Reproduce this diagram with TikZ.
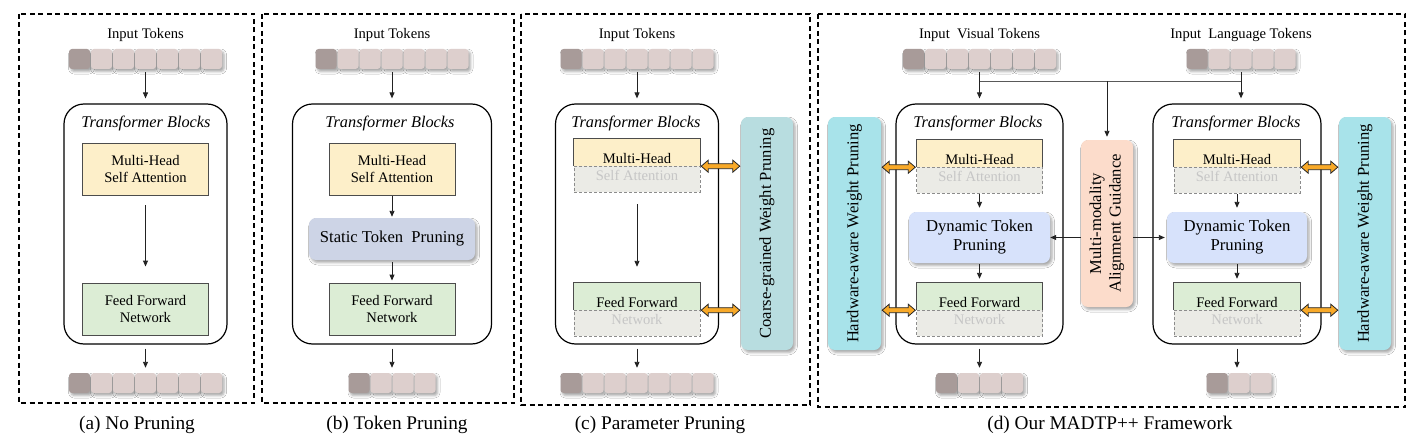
\documentclass[tikz,border=0pt]{standalone}
\usepackage{fontspec}
\setmainfont{Liberation Serif}
\usetikzlibrary{arrows.meta,shadows.blur,calc}

\definecolor{tokd}{HTML}{A89B99}
\definecolor{tokl}{HTML}{DDCFCD}
\definecolor{mhy}{HTML}{FDEFC9}
\definecolor{ffg}{HTML}{DCEDD5}
\definecolor{prg}{HTML}{EBEBE6}
\definecolor{prt}{HTML}{C6C6C6}
\definecolor{stp}{HTML}{CDD4E6}
\definecolor{dtp}{HTML}{D7E2FB}
\definecolor{cgp}{HTML}{B8DDE0}
\definecolor{hwp}{HTML}{A8E3EA}
\definecolor{mmg}{HTML}{FCDCCB}
\definecolor{dorange}{HTML}{F8A928}
\definecolor{edge}{HTML}{222222}

\tikzset{
 shad/.style={blur shadow={shadow xshift=2pt,shadow yshift=-2.5pt,shadow blur radius=2.5pt,shadow opacity=35}},
 tok/.style={rectangle, rounded corners=3pt, minimum width=21pt, minimum height=20pt, inner sep=0pt, fill=tokl, shad},
 tokdk/.style={tok, fill=tokd},
 lbl/.style={font=\fontsize{14.6}{16}\selectfont, inner sep=0pt},
 ttl/.style={font=\fontsize{16.3}{18}\selectfont\itshape, inner sep=0pt},
 capt/.style={font=\fontsize{19.3}{22}\selectfont, inner sep=0pt},
 tb/.style={draw=black, line width=1.2pt, rounded corners=20pt, inner sep=0pt},
 blk/.style={draw=black!70, line width=0.9pt, inner sep=0pt, align=center, font=\fontsize{14.6}{16.5}\selectfont},
 mhs/.style={blk, fill=mhy, minimum width=126pt, minimum height=52pt},
 ffn/.style={blk, fill=ffg, minimum width=126pt, minimum height=52pt},
 half/.style={inner sep=0pt, minimum width=126pt},
 gry/.style={half, fill=prg, draw=black!45, dash pattern=on 3pt off 2pt, line width=0.8pt},
 sbox/.style={rounded corners=7pt, inner sep=0pt, align=center, shad},
 vtxt/.style={rotate=90, align=center, font=\fontsize{16.6}{19.5}\selectfont, inner sep=0pt},
 arr/.style={-{Triangle[length=6pt,width=5pt]}, line width=0.9pt, draw=edge},
 conn/.style={line width=1.2pt, draw=black!65},
 panel/.style={dash pattern=on 5pt off 3.5pt, line width=1.1pt},
 dbl/.style={draw=black!85, fill=dorange, line width=0.8pt, line join=miter},
 dblarr/.style={to path={let \p1=(\tikztostart), \p2=(\tikztotarget) in
   (\x1+1pt,\y1) -- (\x1+8pt,\y1+6pt) -- (\x1+8pt,\y1+2.5pt) -- (\x2-8pt,\y1+2.5pt) -- (\x2-8pt,\y1+6pt) -- (\x2-1pt,\y1) -- (\x2-8pt,\y1-6pt) -- (\x2-8pt,\y1-2.5pt) -- (\x1+8pt,\y1-2.5pt) -- (\x1+8pt,\y1-6pt) -- cycle}},
}

\newcommand\tokrow[4]{% prefix, center x, top y, count
  \pgfmathsetmacro\rowleft{#2-(#4*22-1)/2}
  \node[tokdk] (#1-1) at (\rowleft+10.5,#3+10) {};
  \foreach \i in {2,...,#4}{\node[tok] (#1-\i) at ({\rowleft+10.5+(\i-1)*22},#3+10) {};}
}
\newcommand\splitpair[6]{% prefix, cx, top y, colour, text1, text2
  \node[half, fill=#4, minimum height=27pt] (#1-top) at (#2,#3+13.5) {};
  \node[gry, minimum height=26pt] (#1-bot) at (#2,#3+40) {};
  \draw[black!70, line width=0.9pt] (#1-top.south west) |- (#1-top.north east) -- (#1-top.south east);
  \node[lbl, anchor=base] (#1-tt) at (#2,#3+24) {#5};
  \node[lbl, anchor=base, text=prt] (#1-bt) at (#2,#3+41) {#6};
}

\begin{document}
\begin{tikzpicture}[x=1pt,y=-1pt]
\useasboundingbox[fill=white] (0,0) rectangle (1422,444);

% ---------------- (a)
\draw[panel] (19,14) rectangle (254,403);
\node[lbl] (a-in) at (145.5,35) {Input Tokens};
\tokrow{a-it}{145.5}{49}{7}
\node[tb, minimum width=163pt, minimum height=240pt] (a-tb) at (145.5,224) {};
\node[ttl] (a-tt) at (146,123) {Transformer Blocks};
\node[mhs] (a-mh) at (145.5,169) {Multi-Head\\Self Attention};
\node[ffn] (a-ff) at (145.5,309) {Feed Forward\\Network};
\tokrow{a-ot}{145.5}{373}{7}
\draw[arr, shorten <=3pt, shorten >=5pt] (a-it-4.south) -- (a-tb.north);
\draw[arr, shorten <=10pt, shorten >=16pt] (a-mh.south) -- (a-ff.north);
\draw[arr, shorten <=4pt, shorten >=5pt] (a-tb.south) -- (a-ot-4.north);
\node[capt] (a-cap) at (137,425) {(a) No Pruning};

% ---------------- (b)
\draw[panel] (262,14) rectangle (514,403);
\node[lbl] (b-in) at (392,35) {Input Tokens};
\tokrow{b-it}{392}{49}{7}
\node[tb, minimum width=199pt, minimum height=240pt] (b-tb) at (392,224) {};
\node[ttl] (b-tt) at (390,123) {Transformer Blocks};
\node[mhs] (b-mh) at (392,169) {Multi-Head\\Self Attention};
\node[sbox, fill=stp, minimum width=166pt, minimum height=42pt, font=\fontsize{16.6}{19}\selectfont] (b-st) at (392,239) {Static Token\ \ Pruning};
\node[ffn] (b-ff) at (392,309) {Feed Forward\\Network};
\tokrow{b-ot}{392}{373}{4}
\draw[arr, shorten <=3pt, shorten >=5pt] (b-it-4.south) -- (b-tb.north);
\draw[arr, shorten <=1pt, shorten >=1pt] (b-mh.south) -- (b-st.north);
\draw[arr, shorten <=2pt, shorten >=2pt] (b-st.south) -- (b-ff.north);
\draw[arr, shorten <=4pt, shorten >=5pt] (b-tb.south) -- (b-tb.south |- b-ot-1.north);
\node[capt] (b-cap) at (397,425) {(b) Token Pruning};

% ---------------- (c)
\draw[panel] (521,14) rectangle (810,405);
\node[lbl] (c-in) at (637,35) {Input Tokens};
\tokrow{c-it}{637}{49}{7}
\node[tb, minimum width=163pt, minimum height=240pt] (c-tb) at (637,224) {};
\node[ttl] (c-tt) at (636,123) {Transformer Blocks};
\splitpair{c-mh}{637}{139}{mhy}{Multi-Head}{Self Attention}
\splitpair{c-ff}{637}{283}{ffg}{Feed Forward}{Network}
\node[sbox, fill=cgp, minimum width=52pt, minimum height=233pt] (c-cg) at (767,233.5) {};
\node[vtxt] (c-cgt) at (c-cg.center) {Coarse-grained Weight Pruning};
\tokrow{c-ot}{637}{373}{7}
\draw[arr, shorten <=3pt, shorten >=5pt] (c-it-4.south) -- (c-tb.north);
\draw[arr, shorten <=12pt, shorten >=16pt] (c-mh-bot.south) -- (c-ff-top.north);
\draw[arr, shorten <=4pt, shorten >=5pt] (c-tb.south) -- (c-ot-4.north);
\draw[dbl] (c-mh-top.south east) to[dblarr] (c-mh-top.south east -| c-cg.west);
\draw[dbl] (c-ff-top.south east) to[dblarr] (c-ff-top.south east -| c-cg.west);
\node[capt] (c-cap) at (660,425) {(c) Parameter Pruning};

% ---------------- (d)
\draw[panel] (818,14) rectangle (1405,407);
\node[lbl] (d-vin) at (979.5,35) {Input\ \ Visual Tokens};
\tokrow{d-vt}{979.5}{49}{7}
\node[lbl] (d-lin) at (1241,35) {Input\ \ Language Tokens};
\tokrow{d-lt}{1241}{49}{5}

% left column
\node[tb, minimum width=167pt, minimum height=240pt] (d-ltb) at (979.5,224) {};
\node[ttl] (d-ltt) at (978,123) {Transformer Blocks};
\splitpair{d-lmh}{979.5}{140}{mhy}{Multi-Head}{Self Attention}
\node[sbox, fill=dtp, minimum width=141pt, minimum height=51pt, font=\fontsize{16.7}{19}\selectfont] (d-ldt) at (979.5,237.5) {Dynamic Token\\Pruning};
\splitpair{d-lff}{979.5}{283}{ffg}{Feed Forward}{Network}
\node[sbox, fill=hwp, minimum width=53pt, minimum height=233pt] (d-lhw) at (854.5,233.5) {};
\node[vtxt] (d-lhwt) at (d-lhw.center) {Hardware-aware Weight Pruning};
\tokrow{d-lot}{979.5}{373}{4}

% middle
\node[sbox, fill=mmg, minimum width=52pt, minimum height=167pt] (d-mm) at (1107,223.5) {};
\node[vtxt] (d-mmt) at (d-mm.center) {Multi-modality\\Alignment Guidance};

% right column
\node[tb, minimum width=168pt, minimum height=240pt] (d-rtb) at (1237,224) {};
\node[ttl] (d-rtt) at (1236,123) {Transformer Blocks};
\splitpair{d-rmh}{1237}{140}{mhy}{Multi-Head}{Self Attention}
\node[sbox, fill=dtp, minimum width=140pt, minimum height=51pt, font=\fontsize{16.7}{19}\selectfont] (d-rdt) at (1237,237.5) {Dynamic Token\\Pruning};
\splitpair{d-rff}{1237}{283}{ffg}{Feed Forward}{Network}
\node[sbox, fill=hwp, minimum width=52pt, minimum height=233pt] (d-rhw) at (1365,233.5) {};
\node[vtxt] (d-rhwt) at (d-rhw.center) {Hardware-aware Weight Pruning};
\tokrow{d-rot}{1239}{373}{3}

% connectors (d)
\path (d-vt-4.south) ++(0,12) coordinate (d-j1);
\path (d-lt-3.south) ++(0,12) coordinate (d-j2);
\draw[conn] (d-j1) -- (d-j2);
\draw[arr, shorten <=3pt, shorten >=5pt] (d-vt-4.south) -- (d-vt-4.south |- d-ltb.north);
\draw[arr, shorten <=3pt, shorten >=5pt] (d-lt-3.south) -- (d-lt-3.south |- d-rtb.north);
\draw[arr, shorten >=3pt] (d-j1 -| d-mm.north) -- (d-mm.north);
\draw[arr] (d-mm.west |- d-ldt.east) -- (d-ldt.east);
\draw[arr, shorten >=2pt] (d-mm.east |- d-rdt.west) -- (d-rdt.west);

\draw[arr, shorten <=1pt, shorten >=4pt] (d-lmh-bot.south) -- (d-ldt.north);
\draw[arr, shorten <=1pt, shorten >=4pt] (d-ldt.south) -- (d-lff-top.north);
\draw[arr, shorten <=4pt, shorten >=5pt] (d-ltb.south) -- (d-ltb.south |- d-lot-1.north);
\draw[arr, shorten <=1pt, shorten >=4pt] (d-rmh-bot.south) -- (d-rdt.north);
\draw[arr, shorten <=1pt, shorten >=4pt] (d-rdt.south) -- (d-rff-top.north);
\draw[arr, shorten <=4pt, shorten >=5pt] (d-rtb.south) -- (d-rtb.south |- d-rot-1.north);

\draw[dbl] (d-lhw.east |- d-lmh-top.south west) to[dblarr] (d-lmh-top.south west);
\draw[dbl] (d-lhw.east |- d-lff-top.south west) to[dblarr] (d-lff-top.south west);
\draw[dbl] (d-rmh-top.south east) to[dblarr] (d-rmh-top.south east -| d-rhw.west);
\draw[dbl] (d-rff-top.south east) to[dblarr] (d-rff-top.south east -| d-rhw.west);

\node[capt] (d-cap) at (1110,425) {(d) Our MADTP++ Framework};
\end{tikzpicture}
\end{document}
